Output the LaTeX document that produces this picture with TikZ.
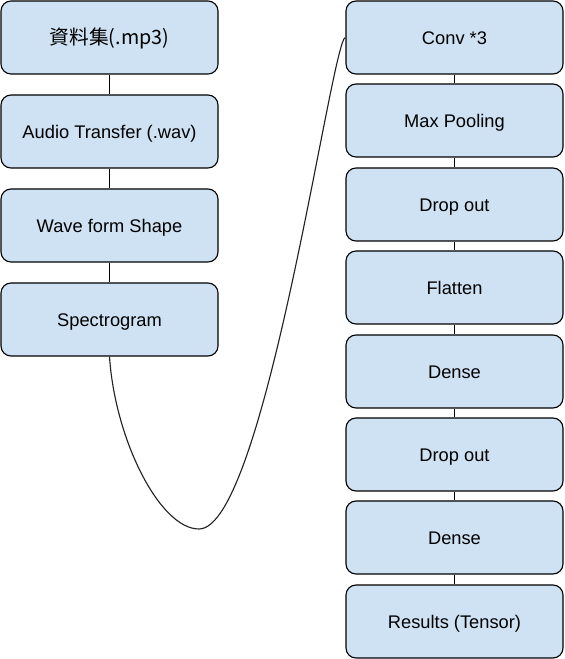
\documentclass[tikz,border=0pt]{standalone}
\usepackage{fontspec}
\setmainfont{Liberation Sans}
\newfontfamily\jpfont[Scale=1.08]{Noto Sans CJK JP}
\usepackage{tikz}
\usetikzlibrary{arrows.meta,positioning}
\usepackage{xcolor}
\definecolor{boxblue}{HTML}{cfe2f3}
\definecolor{linegray}{HTML}{222222}

\begin{document}
\begin{tikzpicture}[
  stage/.style={rectangle,rounded corners=0.25cm,draw=black,line width=0.8pt,
    fill=boxblue,minimum width=5.425cm,minimum height=1.825cm,
    font=\fontsize{13}{15}\selectfont,inner sep=2pt,
    text height=1.0em,text depth=0.05em},
  link/.style={draw=black,line width=0.8pt},
  curve/.style={draw=linegray,line width=0.8pt},
]
\useasboundingbox (0,0) rectangle (14.1,16.475);

% Preprocessing
\node[stage] (mp3) at (2.7375,15.5375) {\jpfont 資料集(.mp3)};
\node[stage] (wav) at (2.7375,13.1875) {Audio Transfer (.wav)};
\node[stage] (wave) at (2.7375,10.8375) {Wave form Shape};
\node[stage] (spec) at (2.7375,8.4875) {Spectrogram};

\draw[link] (mp3) -- (wav);
\draw[link] (wav) -- (wave);
\draw[link] (wave) -- (spec);

% Network
\node[stage] (conv) at (11.3625,15.5375) {Conv *3};
\node[stage] (pool) at (11.3625,13.4625) {Max Pooling};
\node[stage] (drop1) at (11.3625,11.3625) {Drop out};
\node[stage] (flat) at (11.3625,9.2875) {Flatten};
\node[stage] (dense1) at (11.3625,7.1875) {Dense};
\node[stage] (drop2) at (11.3625,5.1125) {Drop out};
\node[stage] (dense2) at (11.3625,3.0375) {Dense};
\node[stage] (res) at (11.3625,0.9375) {Results (Tensor)};

\draw[link] (conv) -- (pool);
\draw[link] (pool) -- (drop1);
\draw[link] (drop1) -- (flat);
\draw[link] (flat) -- (dense1);
\draw[link] (dense1) -- (drop2);
\draw[link] (drop2) -- (dense2);
\draw[link] (dense2) -- (res);

% Spectrogram into network
\coordinate (dip) at (4.975,3.25);
\draw[curve] (spec.south) .. controls (2.875,5.475) and (4.0,3.25) .. (dip)
  .. controls (6.625,3.25) and (8.3,15.5375) .. (conv.west);

\end{tikzpicture}
\end{document}
